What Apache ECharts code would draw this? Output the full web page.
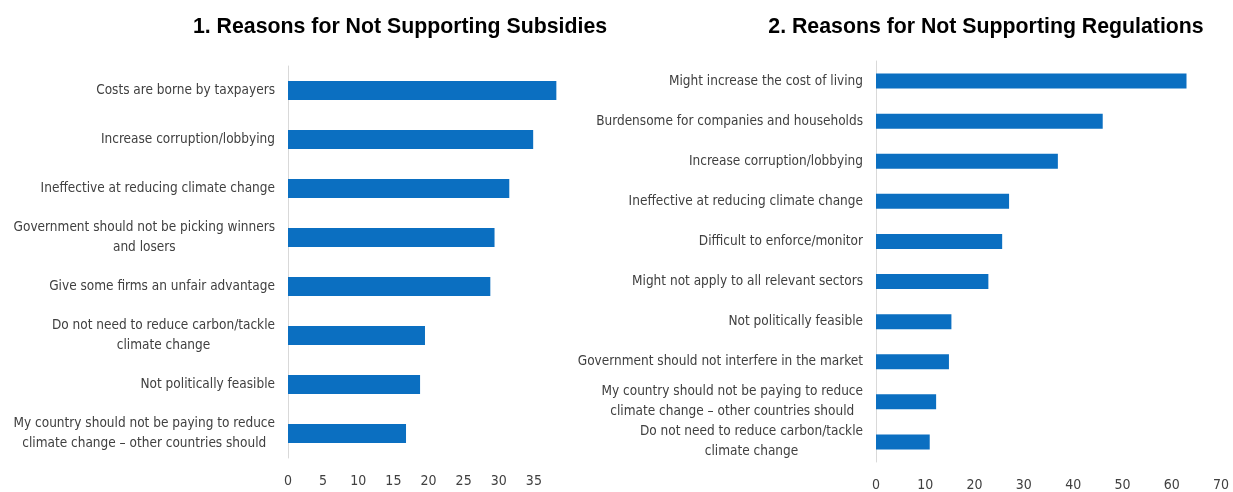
<!DOCTYPE html>
<html>
<head>
<meta charset="utf-8">
<script src="https://cdn.jsdelivr.net/npm/echarts@6/dist/echarts.min.js"></script>
<style>
  html, body { margin: 0; padding: 0; background: #ffffff; }
  #chart { width: 1233px; height: 492px; }
</style>
</head>
<body>
<div id="chart"></div>
<script>
// Survey results: share of respondents citing each reason (%)
const subsidyTitle = '1. Reasons for Not Supporting Subsidies';
const subsidyReasons = [
  'Costs are borne by taxpayers',
  'Increase corruption/lobbying',
  'Ineffective at reducing climate change',
  'Government should not be picking winners\nand losers',
  'Give some firms an unfair advantage',
  'Do not need to reduce carbon/tackle\nclimate change',
  'Not politically feasible',
  'My country should not be paying to reduce\nclimate change \u2013 other countries should'
];
const subsidyValues = [38.2, 34.9, 31.5, 29.4, 28.8, 19.5, 18.8, 16.8];

const regulationTitle = '2. Reasons for Not Supporting Regulations';
const regulationReasons = [
  'Might increase the cost of living',
  'Burdensome for companies and households',
  'Increase corruption/lobbying',
  'Ineffective at reducing climate change',
  'Difficult to enforce/monitor',
  'Might not apply to all relevant sectors',
  'Not politically feasible',
  'Government should not interfere in the market',
  'My country should not be paying to reduce\nclimate change \u2013 other countries should',
  'Do not need to reduce carbon/tackle\nclimate change'
];
const regulationValues = [63.0, 46.0, 36.9, 27.0, 25.6, 22.8, 15.3, 14.8, 12.2, 10.9];

const BAR_COLOR = '#0b6fc1';
const LABEL_FONT = '"DejaVu Sans Condensed", "Liberation Sans", sans-serif';
const TITLE_FONT = '"Liberation Sans", Arial, sans-serif';
const TICK_COLOR = '#404040';

// Multi-line category labels: block right-aligned to the axis, lines centred within it
function categoryLabel(value) {
  return value.split('\n').map(function (l) { return '{c|' + l + '}'; }).join('\n');
}
const categoryRich = {
  c: { align: 'center', fontFamily: LABEL_FONT, fontSize: 13.5, color: TICK_COLOR, lineHeight: 20 }
};

function valueAxis(gridIndex, max, interval, showMax) {
  return {
    type: 'value',
    gridIndex: gridIndex,
    min: 0,
    max: max,
    interval: interval,
    axisLine: { show: false },
    axisTick: { show: false },
    splitLine: { show: false },
    axisLabel: {
      color: TICK_COLOR,
      fontFamily: LABEL_FONT,
      fontSize: 14,
      margin: 16,
      showMaxLabel: showMax
    }
  };
}

function categoryAxis(gridIndex, names) {
  return {
    type: 'category',
    gridIndex: gridIndex,
    data: names,
    inverse: true,
    axisLine: { show: true, lineStyle: { color: '#d9d9d9', width: 1 } },
    axisTick: { show: false },
    axisLabel: {
      margin: 13,
      formatter: categoryLabel,
      rich: categoryRich
    }
  };
}

const chart = echarts.init(document.getElementById('chart'), null, { renderer: 'canvas' });

chart.setOption({
  animation: false,
  backgroundColor: '#ffffff',
  title: [
    {
      text: subsidyTitle,
      left: 395, top: 12, textAlign: 'center',
      textStyle: { fontFamily: TITLE_FONT, fontWeight: 'bold', fontSize: 21.3, color: '#000000' }
    },
    {
      text: regulationTitle,
      left: 981, top: 12, textAlign: 'center',
      textStyle: { fontFamily: TITLE_FONT, fontWeight: 'bold', fontSize: 21.3, color: '#000000' }
    }
  ],
  grid: [
    { left: 288, width: 281, top: 66, height: 392 },
    { left: 876, width: 345, top: 61, height: 403 }
  ],
  xAxis: [
    valueAxis(0, 40, 5, false),
    valueAxis(1, 70, 10, true)
  ],
  yAxis: [
    categoryAxis(0, subsidyReasons),
    categoryAxis(1, regulationReasons)
  ],
  series: [
    {
      type: 'bar', xAxisIndex: 0, yAxisIndex: 0,
      data: subsidyValues, barWidth: 19,
      itemStyle: { color: BAR_COLOR }
    },
    {
      type: 'bar', xAxisIndex: 1, yAxisIndex: 1,
      data: regulationValues, barWidth: 15,
      itemStyle: { color: BAR_COLOR }
    }
  ]
});
</script>
</body>
</html>
